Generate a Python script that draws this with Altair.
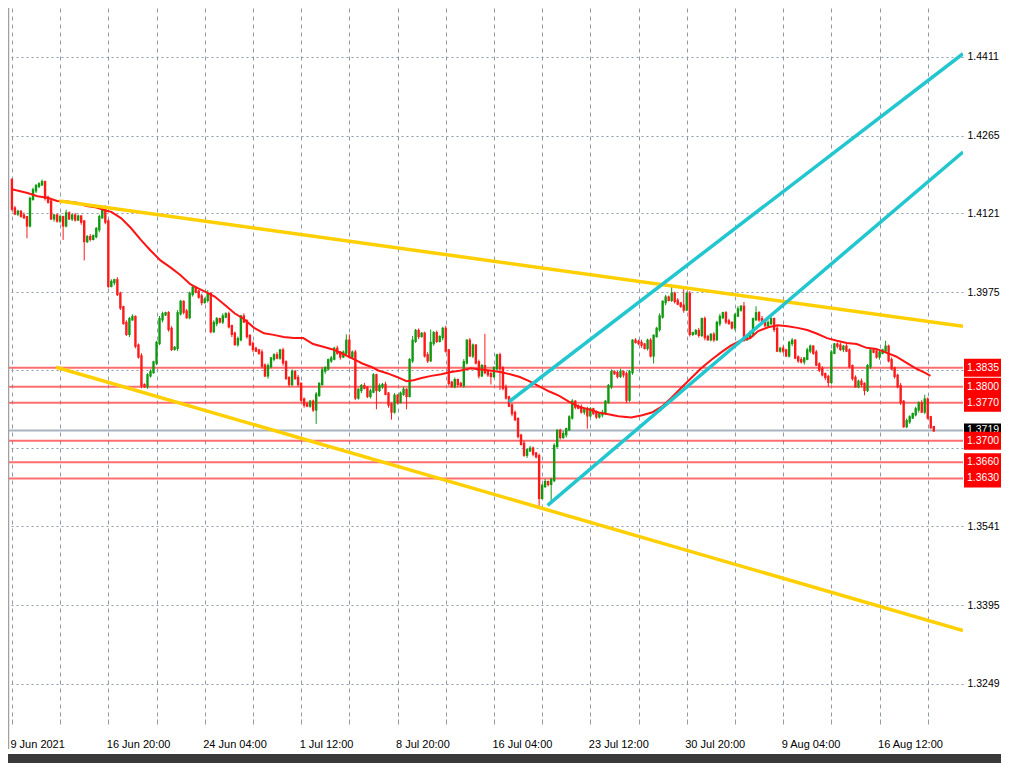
import altair as alt
import pandas as pd

# ---------------- data (prices in 1/10000 units) ----------------
first_open = 14183
closes = [
    14130,14121,14124,14117,14114,14099,14148,14164,14172,14175,14179,14150,14143,14112,14117,14108,14114,14099,14121,14112,
    14117,14110,14115,14106,14070,14077,14074,14079,14092,14114,14128,14106,13987,13994,13997,13972,13947,13918,13898,13925,
    13929,13876,13856,13803,13801,13821,13827,13845,13881,13925,13934,13936,13907,13870,13872,13936,13957,13939,13929,13972,
    13983,13976,13967,13957,13961,13972,13903,13918,13925,13921,13930,13934,13912,13898,13879,13888,13930,13921,13894,13879,
    13870,13867,13863,13839,13821,13838,13852,13858,13854,13867,13845,13816,13805,13827,13816,13805,13776,13767,13765,13772,
    13758,13785,13805,13830,13834,13849,13852,13870,13863,13856,13863,13885,13856,13863,13780,13794,13801,13798,13783,13791,
    13821,13794,13801,13803,13787,13767,13754,13783,13772,13787,13794,13783,13849,13885,13903,13894,13898,13858,13849,13881,
    13899,13885,13892,13907,13867,13807,13801,13812,13805,13803,13845,13885,13858,13876,13845,13821,13838,13827,13823,13820,
    13834,13858,13834,13798,13780,13765,13751,13740,13709,13694,13674,13682,13685,13676,13671,13594,13616,13623,13620,13627,
    13690,13718,13707,13712,13721,13743,13772,13763,13761,13754,13758,13747,13758,13751,13745,13749,13751,13772,13801,13827,
    13825,13820,13827,13823,13776,13827,13885,13883,13881,13878,13872,13885,13858,13894,13907,13930,13957,13965,13961,13972,
    13959,13954,13950,13943,13972,13898,13899,13903,13896,13925,13892,13888,13896,13888,13918,13929,13936,13921,13918,13910,
    13932,13943,13948,13888,13892,13899,13925,13936,13925,13921,13914,13918,13925,13907,13867,13870,13867,13858,13881,13885,
    13854,13849,13847,13852,13867,13874,13863,13841,13832,13823,13818,13809,13863,13878,13876,13870,13874,13867,13838,13816,
    13801,13809,13805,13794,13838,13867,13865,13856,13863,13867,13874,13849,13834,13820,13801,13772,13727,13736,13743,13749,
    13758,13769,13754,13776,13743,13725,13719,
]
wick_up = [
    3,5,4,3,6,2,4,5,3,4,5,3,4,6,3,4,5,3,7,4,
    3,5,4,3,2,4,6,3,4,5,3,8,4,5,3,6,4,3,5,4,
    5,3,4,6,3,4,5,3,4,6,5,3,4,5,3,6,4,3,5,4,
    6,4,3,5,4,7,3,5,4,3,6,4,5,3,4,5,3,6,4,3,
    5,4,3,6,4,5,3,4,6,3,5,4,3,5,4,6,3,4,5,3,
    4,5,3,6,4,3,5,4,6,3,4,12,12,4,5,3,4,6,3,5,
    4,3,5,4,6,3,4,5,3,4,6,3,4,9,4,5,3,4,6,25,
    4,5,3,4,6,3,4,5,3,4,6,3,5,4,3,5,4,60,3,5,
    4,3,5,4,6,3,4,5,3,4,6,3,5,4,3,5,4,6,3,4,
    5,3,4,6,3,4,5,3,4,6,3,5,4,3,5,4,6,3,4,5,
    3,4,6,3,5,4,3,5,4,6,3,4,5,3,4,6,3,5,4,13,
    4,5,3,31,4,5,3,4,6,3,5,4,3,5,4,6,3,4,5,3,
    4,6,3,9,4,5,3,13,4,6,3,5,4,3,5,4,6,3,4,5,
    3,4,6,3,5,4,3,5,4,6,3,4,5,3,4,6,3,5,4,3,
    5,4,6,3,4,5,3,4,6,3,11,4,5,3,4,6,3,5,4,3,
    5,4,6,9,4,3,2,
]
wick_dn = [
    4,3,5,4,3,24,4,3,5,4,3,5,4,3,6,4,5,27,4,3,
    5,4,3,6,36,4,5,3,4,6,3,5,4,3,6,4,5,3,4,6,
    3,5,4,6,3,5,4,3,5,4,6,3,5,4,3,6,4,5,3,4,
    5,3,4,6,3,5,4,3,6,4,5,3,4,6,3,5,4,3,5,4,
    6,3,4,5,3,6,4,5,3,4,6,3,5,4,3,5,4,6,3,4,
    5,27,4,3,6,4,5,3,4,6,3,5,4,3,5,4,6,3,4,5,
    3,36,4,5,3,6,15,4,5,3,4,25,3,5,4,6,3,4,5,3,
    5,4,3,6,4,5,3,4,6,3,5,4,3,5,4,6,3,4,5,16,
    4,3,40,5,4,3,6,4,5,3,4,6,3,5,4,18,3,4,5,32,
    4,3,5,4,6,3,4,5,3,4,6,25,4,3,5,4,6,3,4,5,
    3,5,4,6,6,4,5,3,4,6,3,5,4,15,3,5,4,6,3,4,
    5,3,4,6,3,5,4,3,5,4,6,3,4,5,3,6,4,5,3,4,
    6,3,4,5,3,4,6,3,5,4,3,5,4,6,3,4,5,3,4,6,
    3,5,4,6,3,5,4,3,5,4,6,9,4,3,5,4,6,3,4,5,
    3,4,6,10,4,5,3,4,6,3,5,4,3,5,4,6,3,4,5,3,
    4,6,3,5,4,3,2,
]

ma_bar = [0,5.2,8.5,11.8,15,18.3,21.6,24.8,28.1,31.4,33,36.3,39.5,42.8,46.1,49.3,52.6,55.9,59.2,60.8,
          64.1,67.3,70.6,73.9,77.1,80.4,83.7,86.9,90.2,93.5,96.7,100,103.3,106.5,109.8,113.1,116.3,119.6,121.6,124.5,
          127.8,131,133.3,136,139.2,142.5,145.8,149,152.3,155.6,158.8,162.1,165.4,168.6,171.9,175.2,178.4,181.7,185,188.2,
          191.5,194.8,198,201.3,205.6,209.2,212.4,215.7,219,222.2,225.5,228.8,232,235.3,238.6,241.8,245.1,247.7,251,254.2,
          257.5,260.8,264,267.3,270.6,273.9,277.1,280.4,283.7,286.9,290.2,293.5,296.7,300,303.3,304.9]
ma_price = [14166,14159,14153,14150,14144,14143,14141,14135,14132,14126,14124,14112,14094,14072,14052,14034,14021,14007,13990,13985,
            13976,13967,13952,13936,13925,13909,13899,13896,13892,13890,13890,13879,13874,13869,13861,13852,13843,13836,13830,13825,
            13818,13810,13812,13816,13820,13823,13827,13830,13834,13832,13830,13827,13823,13818,13810,13800,13791,13783,13772,13763,
            13758,13752,13749,13745,13743,13747,13752,13763,13780,13798,13816,13834,13849,13863,13876,13885,13890,13903,13910,13914,
            13912,13909,13905,13898,13890,13885,13881,13879,13872,13870,13863,13856,13845,13834,13825,13820]

date_labels = ["9 Jun 2021", "16 Jun 20:00", "24 Jun 04:00", "1 Jul 12:00", "8 Jul 20:00",
               "16 Jul 04:00", "23 Jul 12:00", "30 Jul 20:00", "9 Aug 04:00", "16 Aug 12:00"]
label_bars = [0, 32, 64, 96, 128, 160, 192, 224, 256, 288]
tick_bars = list(range(0, 305, 16))

price_ticks = [1.4411, 1.4265, 1.4121, 1.3975, 1.3830, 1.3686, 1.3541, 1.3395, 1.3249]
level_prices = [1.3835, 1.3800, 1.3770, 1.3700, 1.3660, 1.3630]
bid_price = 1.3719

trend_names = ["yellow_top", "yellow_top", "yellow_bottom", "yellow_bottom",
               "cyan_top", "cyan_top", "cyan_bottom", "cyan_bottom"]
trend_bars = [15.7, 315.7, 14.7, 315.7, 165.0, 315.7, 177.8, 315.7]
trend_prices = [1.4144, 1.3912, 1.3836, 1.3348, 1.3772, 1.4417, 1.3580, 1.4235]

# ---------------- tables ----------------
opens = [first_open] + closes[:-1]
rows = []
for i, (o, c, wu, wd) in enumerate(zip(opens, closes, wick_up, wick_dn)):
    rows.append(dict(bar=i, open=o / 1e4, close=c / 1e4,
                     high=(max(o, c) + wu) / 1e4, low=(min(o, c) - wd) / 1e4,
                     dir="up" if c >= o else "down"))
candles = pd.DataFrame(rows)
ma = pd.DataFrame({"bar": ma_bar, "price": [p / 1e4 for p in ma_price]})
trend = pd.DataFrame({"line": trend_names, "bar": trend_bars, "price": trend_prices})
yellow = trend[trend.line.str.startswith("yellow")]
cyan = trend[trend.line.str.startswith("cyan")]
levels = pd.DataFrame({"price": level_prices})
bid = pd.DataFrame({"price": [bid_price]})
one = pd.DataFrame({"k": [0]})

W, H = 955, 711
FONT = "Liberation Sans"
FS = 10.5

xs = alt.Scale(domain=[-1.3, 315.7], nice=False, zero=False)
ys = alt.Scale(domain=[1.31841, 1.45018], nice=False, zero=False)

xexpr = "''"
for b, l in reversed(list(zip(label_bars, date_labels))):
    xexpr = f"datum.value == {b} ? '{l}' : ({xexpr})"

x_axis = alt.Axis(values=tick_bars, labelExpr=xexpr, grid=True, gridDash=[4, 4],
                  gridColor="#8e9aab", gridWidth=1, tickColor="#9a9a9a", tickSize=5,
                  domain=False, labelAlign="left", labelFlush=False, labelOverlap=False,
                  labelFont=FONT, labelFontSize=11, labelColor="#000000",
                  labelPadding=14, labelOffset=-2, title=None)
y_axis = alt.Axis(orient="right", values=price_ticks, format=".4f",
                  labelExpr="(datum.value > 1.38295 && datum.value < 1.38305) || (datum.value > 1.36855 && datum.value < 1.36865) ? '' : datum.label",
                  grid=True, gridDash=[2, 3], gridColor="#8e9aab", gridWidth=1,
                  ticks=False, domain=False, labelFont=FONT, labelFontSize=FS,
                  labelColor="#000000", labelPadding=4, title=None)


def X(field):
    return alt.X(field, scale=xs, axis=x_axis)


def Y(field):
    return alt.Y(field, scale=ys, axis=y_axis)


col = alt.Color("dir:N", scale=alt.Scale(domain=["up", "down"], range=["#129912", "#ff1a1a"]), legend=None)

level_lines = alt.Chart(levels).mark_rule(color="#ff4a4a", strokeWidth=2, opacity=0.8).encode(
    y=Y("price:Q"))
bid_line = alt.Chart(bid).mark_rule(color="#a9b2bf", strokeWidth=2).encode(
    y=Y("price:Q"))

wicks = alt.Chart(candles).mark_rule(strokeWidth=1, clip=True).encode(
    x=X("bar:Q"), y=Y("low:Q"), y2="high:Q", color=col)
bodies = alt.Chart(candles).mark_rule(strokeWidth=2.4, strokeCap="square", clip=True).encode(
    x=X("bar:Q"), y=Y("open:Q"), y2="close:Q", color=col)

ma_line = alt.Chart(ma).mark_line(color="#ff1414", strokeWidth=2, clip=True).encode(
    x=X("bar:Q"), y=Y("price:Q"))

yellow_lines = alt.Chart(yellow).mark_line(color="#ffcf00", strokeWidth=3.5, clip=True).encode(
    x=X("bar:Q"), y=Y("price:Q"), detail="line:N")
cyan_lines = alt.Chart(cyan).mark_line(color="#22c6cf", strokeWidth=3.5, clip=True).encode(
    x=X("bar:Q"), y=Y("price:Q"), detail="line:N")

left_border = alt.Chart(one).mark_rule(color="#a0a0a0", strokeWidth=1.5).encode(
    x=alt.value(0.5), y=alt.value(0), y2=alt.value(H + 30))
bottom_bar = alt.Chart(one).mark_rect(color="#3a3a3a").encode(
    x=alt.value(-8), x2=alt.value(W + 40), y=alt.value(H + 35), y2=alt.value(H + 44))

bid_box = alt.Chart(bid).mark_rect(color="#000000", yOffset=-7, y2Offset=7).encode(
    x=alt.value(W + 1), x2=alt.value(W + 40), y=Y("price:Q"), y2="price:Q")
bid_text = alt.Chart(bid).mark_text(color="#ffffff", align="left", baseline="middle",
                                    font=FONT, fontSize=FS).encode(
    x=alt.value(W + 4), y=Y("price:Q"), text=alt.Text("price:Q", format=".4f"))
lvl_box = alt.Chart(levels).mark_rect(color="#ff0000", yOffset=-9, y2Offset=9).encode(
    x=alt.value(W + 1), x2=alt.value(W + 40), y=Y("price:Q"), y2="price:Q")
lvl_text = alt.Chart(levels).mark_text(color="#ffffff", align="left", baseline="middle",
                                       font=FONT, fontSize=FS).encode(
    x=alt.value(W + 4), y=Y("price:Q"), text=alt.Text("price:Q", format=".4f"))

chart = alt.layer(
    level_lines, bid_line, wicks, bodies, ma_line, yellow_lines, cyan_lines,
    left_border, bottom_bar, bid_box, bid_text, lvl_box, lvl_text,
).properties(
    width=W, height=H,
    padding={"left": 0, "top": 0, "right": 38, "bottom": 44},
    autosize=alt.AutoSizeParams(type="none"),
    background="#ffffff",
).configure_view(stroke=None)

chart.save("out.html", embed_options={"renderer": "svg", "actions": False})
